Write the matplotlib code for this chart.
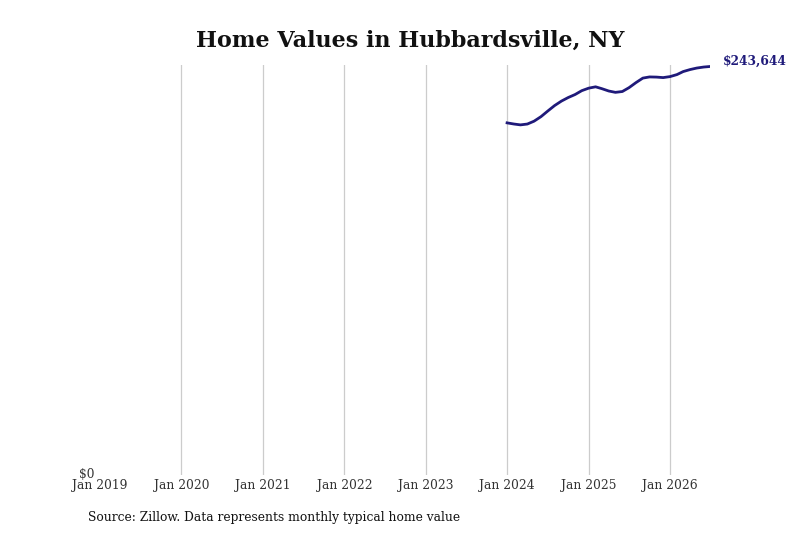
import pandas as pd
import matplotlib
matplotlib.use("Agg")
import matplotlib.pyplot as plt

# ----------------------------------------------------------------------------------------------------------------------

title = "Home Values in Hubbardsville, NY"
source_note = "Source: Zillow. Data represents monthly typical home value"
start_month = "2024-01-01"

# Typical home value, monthly, Jan 2024 - Jul 2026
home_values = [
    210000, 209300, 208800, 209300, 211000, 213700, 217000, 220300, 223000, 225100, 226900, 229200,
    230700, 231500, 230400, 229000, 228200, 228700, 231000, 234000, 236700, 237400, 237300, 237000,
    237600, 238800, 240600, 241800, 242700, 243300, 243644,
]
tick_years = [2019, 2020, 2021, 2022, 2023, 2024, 2025, 2026]

line_color = "#1f1a7a"

# ----------------------------------------------------------------------------------------------------------------------

plt.rcParams["font.family"] = ["DejaVu Serif"]

months = pd.date_range(start_month, periods=len(home_values), freq="MS")

fig = plt.figure(figsize=(8, 5.33), dpi=100)
ax = fig.add_axes([0.125, 0.109, 0.763, 0.769])

ax.plot(months, home_values, color=line_color, linewidth=2)

# Label the latest value at the end of the line
ax.annotate(f"${home_values[-1]:,}", xy=(months[-1], home_values[-1]), xytext=(9, 4),
            textcoords="offset points", color=line_color, fontsize=8.8, fontweight="bold",
            va="center", ha="left", annotation_clip=False)

ticks = [pd.Timestamp(f"{y}-01-01") for y in tick_years]
ax.set_xticks(ticks)
ax.set_xticklabels([f"Jan {y}" for y in tick_years], fontsize=8.8, color="#333333")
ax.set_xlim(ticks[0], months[-1])
ax.set_ylim(0, 244500)
ax.set_yticks([0])
ax.set_yticklabels(["$0"], fontsize=8.8, color="#333333", va="center")

# Vertical grid only, none on the left edge
ax.grid(axis="x", color="#cccccc", linewidth=0.9)
ax.xaxis.get_gridlines()[0].set_visible(False)
ax.tick_params(length=0, pad=3)
ax.tick_params(axis="y", pad=4)
for spine in ax.spines.values():
    spine.set_visible(False)

fig.suptitle(title, x=0.513, y=0.945, fontsize=16, fontweight="bold", color="#111111")
fig.text(0.11, 0.016, source_note, fontsize=8.8, color="#111111", va="bottom")

fig.savefig("out.png", dpi=100)
